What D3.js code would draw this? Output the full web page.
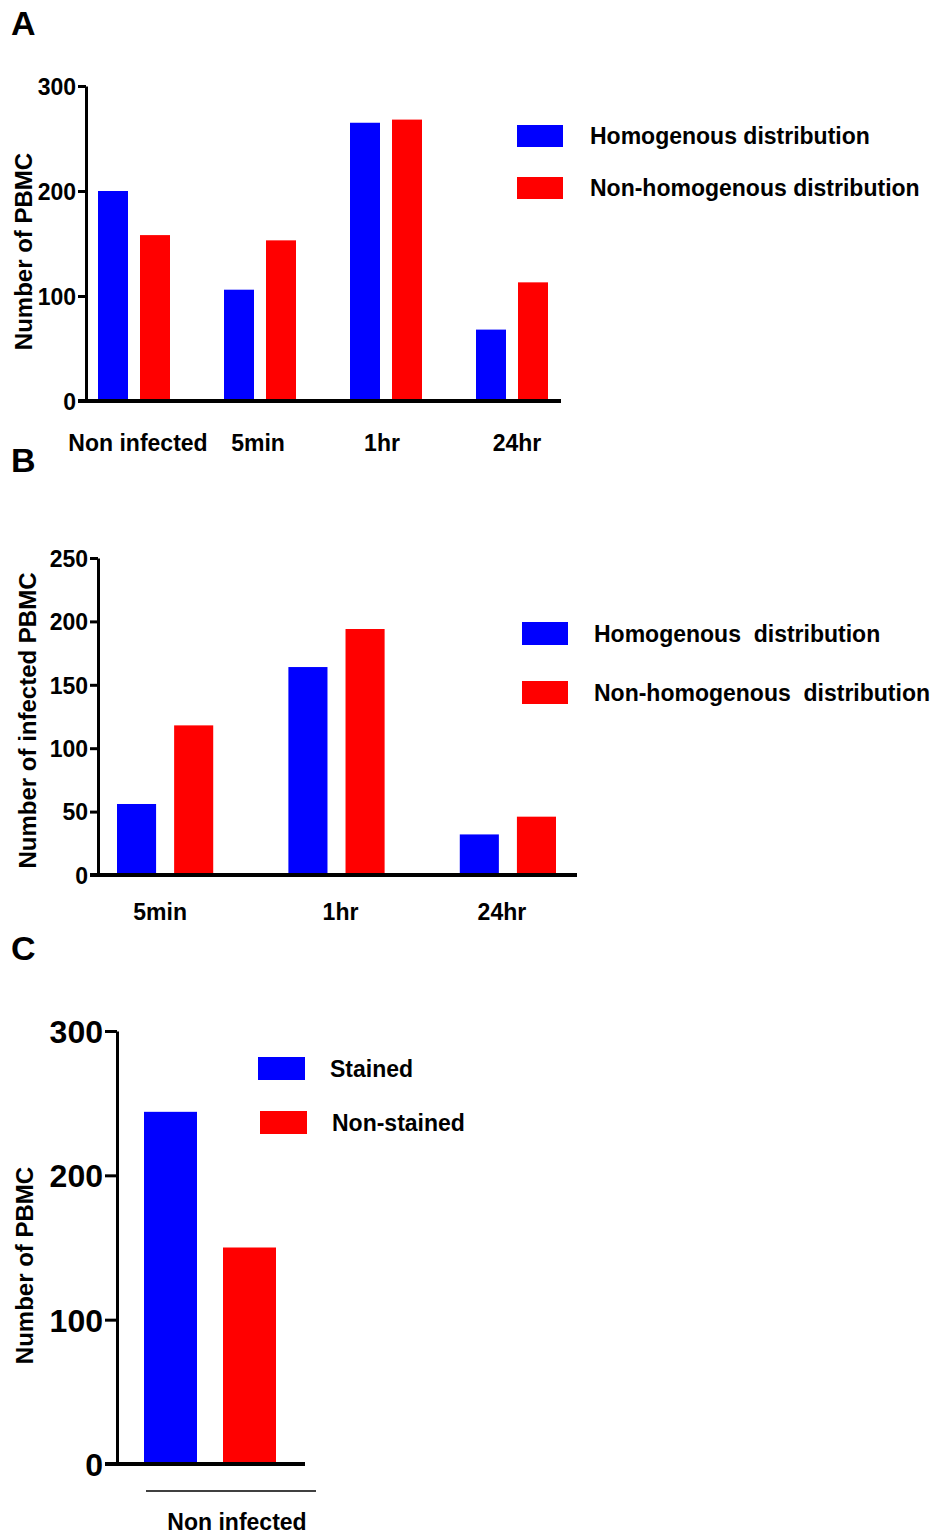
<!DOCTYPE html>
<html>
<head>
<meta charset="utf-8">
<script src="https://cdn.jsdelivr.net/npm/d3@7"></script>
<style>
  body { margin: 0; background: #fff; }
  svg { display: block; font-family: "Liberation Sans", Arial, sans-serif; }
  .axis text { font-weight: bold; fill: #000; }
  .axis path, .axis line { stroke: #000; }
</style>
</head>
<body>
<div class="chart"></div>
<script>
// panel A
const catsA = ['Non infected', '5min', '1hr', '24hr'];
const seriesA = ['Homogenous distribution', 'Non-homogenous distribution'];
const homA = [200, 106, 265, 68];
const nonHomA = [158, 153, 268, 113];
const ticksA = [0, 100, 200, 300];

// panel B
const catsB = ['5min', '1hr', '24hr'];
const seriesB = ['Homogenous\u00a0\u00a0distribution', 'Non-homogenous\u00a0\u00a0distribution'];
const homB = [56, 164, 32];
const nonHomB = [118, 194, 46];
const ticksB = [0, 50, 100, 150, 200, 250];

// panel C
const catsC = ['Non infected'];
const seriesC = ['Stained', 'Non-stained'];
const stainedC = [244];
const nonStainedC = [150];
const ticksC = [0, 100, 200, 300];

const colors = ['#0000ff', '#ff0000'];

const svg = d3.select('.chart').append('svg')
  .attr('width', 938)
  .attr('height', 1535);

function drawPanel(p) {
  const g = svg.append('g');

  const y = d3.scaleLinear()
    .domain([0, p.ticks[p.ticks.length - 1]])
    .range([p.y0, p.yTop]);

  const x = d3.scaleBand()
    .domain(p.cats)
    .range([p.barStart, p.barEnd])
    .paddingInner(p.groupPad)
    .paddingOuter(0);

  const xs = d3.scaleBand()
    .domain(p.series)
    .range([0, x.bandwidth()])
    .paddingInner(p.barPad);

  const rows = p.cats.map((c, i) => ({cat: c, vals: p.values.map(v => v[i])}));

  g.selectAll('.grp')
    .data(rows)
    .enter().append('g')
      .attr('transform', d => `translate(${x(d.cat)}, 0)`)
    .selectAll('rect')
    .data(d => d.vals.map((v, j) => ({s: p.series[j], v: v, c: colors[j]})))
    .enter().append('rect')
      .attr('x', d => xs(d.s))
      .attr('y', d => y(d.v))
      .attr('width', xs.bandwidth())
      .attr('height', d => y(0) - y(d.v))
      .style('fill', d => d.c);

  // y axis
  const yAxis = d3.axisLeft(y)
    .tickValues(p.ticks)
    .tickSize(p.tickLen)
    .tickSizeOuter(0)
    .tickPadding(2);

  const gy = g.append('g')
    .attr('class', 'axis')
    .attr('transform', `translate(${p.axisX}, 0)`)
    .call(yAxis);
  gy.select('.domain').attr('stroke-width', 3);
  gy.selectAll('.tick line').attr('stroke-width', 3);
  gy.selectAll('text').style('font-size', p.tickFont + 'px').attr('dy', '0.36em');

  // x axis line
  g.append('line')
    .attr('x1', p.axisX - p.tickLen)
    .attr('x2', p.xEnd)
    .attr('y1', y(0))
    .attr('y2', y(0))
    .attr('stroke', '#000')
    .attr('stroke-width', 4);

  if (p.underline) {
    g.append('line')
      .attr('x1', p.underline[0])
      .attr('x2', p.underline[1])
      .attr('y1', y(0) + p.underline[2])
      .attr('y2', y(0) + p.underline[2])
      .attr('stroke', '#000')
      .attr('stroke-width', 1.5);
  }

  // category labels
  const gx = g.append('g')
    .attr('class', 'axis')
    .attr('transform', `translate(0, ${y(0)})`)
    .call(d3.axisBottom(x).tickSize(0).tickPadding(p.catPad));
  gx.select('.domain').remove();
  gx.selectAll('text')
    .style('font-size', p.catFont + 'px')
    .attr('dx', (d, i) => p.catShift ? p.catShift[i] : 0);

  // y label
  g.append('text')
    .attr('transform', `translate(${p.ylabX}, ${(y(0) + y.range()[1]) / 2 + p.ylabShift}) rotate(-90)`)
    .attr('text-anchor', 'middle')
    .style('font-size', p.ylabFont + 'px')
    .style('font-weight', 'bold')
    .text(p.ylab);

  // legend
  const leg = g.selectAll('.leg')
    .data(p.series)
    .enter().append('g')
      .attr('transform', (d, i) => `translate(${p.leg.x + (p.leg.dx ? p.leg.dx[i] : 0)}, ${p.leg.y + i * p.leg.step})`);
  leg.append('rect')
    .attr('width', p.leg.w)
    .attr('height', p.leg.h)
    .style('fill', (d, i) => colors[i]);
  leg.append('text')
    .attr('x', p.leg.tx)
    .attr('y', p.leg.h / 2)
    .attr('dy', '0.36em')
    .style('font-size', p.leg.font + 'px')
    .style('font-weight', 'bold')
    .text(d => d);

  // panel letter
  svg.append('text')
    .attr('x', 11)
    .attr('y', p.letterY)
    .style('font-size', '34px')
    .style('font-weight', 'bold')
    .text(p.letter);
}

drawPanel({
  letter: 'A', letterY: 35,
  cats: catsA, series: seriesA, values: [homA, nonHomA], ticks: ticksA,
  y0: 401, yTop: 86, axisX: 86, xEnd: 561,
  barStart: 98, barEnd: 548, groupPad: 54 / 126, barPad: 12 / 42,
  tickLen: 8, tickFont: 23,
  catPad: 34, catFont: 23, catShift: [4, -2, -4, 5],
  ylab: 'Number of PBMC', ylabX: 32, ylabShift: 8, ylabFont: 24,
  leg: {x: 517, y: 125, w: 46, h: 22, step: 52, tx: 73, font: 23}
});

drawPanel({
  letter: 'B', letterY: 472,
  cats: catsB, series: seriesB, values: [homB, nonHomB], ticks: ticksB,
  y0: 875, yTop: 558, axisX: 98, xEnd: 577,
  barStart: 117, barEnd: 556, groupPad: 75 / 171, barPad: 18 / 57,
  tickLen: 8, tickFont: 23,
  catPad: 29, catFont: 23, catShift: [-5, 4, -6],
  ylab: 'Number of infected PBMC', ylabX: 36, ylabShift: 4, ylabFont: 24,
  leg: {x: 522, y: 622, w: 46, h: 23, step: 59, tx: 72, font: 23}
});

drawPanel({
  letter: 'C', letterY: 960,
  cats: catsC, series: seriesC, values: [stainedC, nonStainedC], ticks: ticksC,
  y0: 1464, yTop: 1031, axisX: 117, xEnd: 305,
  barStart: 144, barEnd: 276, groupPad: 0, barPad: 26 / 79,
  tickLen: 12, tickFont: 32,
  catPad: 50, catFont: 23, catShift: [27],
  underline: [146, 316, 27],
  ylab: 'Number of PBMC', ylabX: 33, ylabShift: 18, ylabFont: 24,
  leg: {x: 258, y: 1057, w: 47, h: 23, step: 54, tx: 72, font: 23, dx: [0, 2]}
});
</script>
</body>
</html>
